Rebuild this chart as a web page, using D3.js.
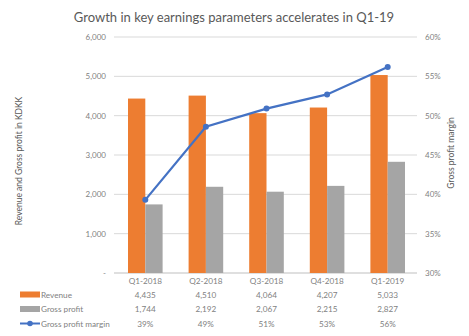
<!DOCTYPE html>
<html><head><meta charset="utf-8">
<script src="https://cdn.jsdelivr.net/npm/d3@7"></script>
<style>body{margin:0;background:#fff}svg{display:block}text{font-family:Lato,"Open Sans",sans-serif}</style>
</head><body>
<svg id="c" width="469" height="336"></svg>
<script>
const categories = ["Q1-2018","Q2-2018","Q3-2018","Q4-2018","Q1-2019"];
const revenue = [4435,4510,4064,4207,5033];
const grossProfit = [1744,2192,2067,2215,2827];
const margin = [39.3,48.6,50.9,52.7,56.2];
const marginLabels = ["39%","49%","51%","53%","56%"];
const leftTicks = [0,1000,2000,3000,4000,5000,6000];
const rightTicks = [30,35,40,45,50,55,60];

const svg = d3.select("#c");
const L = 114, R = 417, T = 37, B = 273;
const x = d3.scaleBand().domain(categories).range([L,R]);
const y = d3.scaleLinear().domain([0,6000]).range([B,T]);
const y2 = d3.scaleLinear().domain([30,60]).range([B,T]);
const txt = "#7f7f7f";

svg.append("text").attr("x",234).attr("y",22).attr("text-anchor","middle")
  .attr("font-size",13).attr("fill","#595959").text("Growth in key earnings parameters accelerates in Q1-19");

// gridlines
svg.append("g").selectAll("line").data(leftTicks).join("line")
  .attr("x1",L).attr("x2",R).attr("y1",d=>y(d)).attr("y2",d=>y(d))
  .attr("stroke",d=>d===0?"#bfbfbf":"#d9d9d9").attr("stroke-width",1);

// left axis labels
svg.append("g").selectAll("text").data(leftTicks).join("text")
  .attr("x",106).attr("y",d=>y(d)+3).attr("text-anchor","end")
  .attr("font-size",8).attr("fill",txt).text(d=>d===0?"-":d3.format(",")(d));
// right axis labels
svg.append("g").selectAll("text").data(rightTicks).join("text")
  .attr("x",425).attr("y",d=>y2(d)+3).attr("text-anchor","start")
  .attr("font-size",8).attr("fill",txt).text(d=>d+"%");

svg.append("text").attr("transform","translate(22,161) rotate(-90)").attr("text-anchor","middle")
  .attr("font-size",8.5).attr("fill","#595959").text("Revenue and Gross profit in KDKK");
svg.append("text").attr("transform","translate(454,153) rotate(-90)").attr("text-anchor","middle")
  .attr("font-size",8.5).attr("fill","#595959").text("Gross profit margin");

const bw = 17.3;
const cx = d=>x(d)+x.bandwidth()/2+1;
svg.append("g").selectAll("rect").data(categories).join("rect")
  .attr("x",(d)=>cx(d)-bw).attr("width",bw)
  .attr("y",(d,i)=>y(revenue[i])).attr("height",(d,i)=>B-y(revenue[i])).attr("fill","#ED7D31");
svg.append("g").selectAll("rect").data(categories).join("rect")
  .attr("x",(d)=>cx(d)).attr("width",bw)
  .attr("y",(d,i)=>y(grossProfit[i])).attr("height",(d,i)=>B-y(grossProfit[i])).attr("fill","#A5A5A5");

const line = d3.line().x((d,i)=>cx(categories[i])).y(d=>y2(d));
svg.append("path").datum(margin).attr("d",line).attr("fill","none").attr("stroke","#4472C4").attr("stroke-width",2.2);
svg.append("g").selectAll("circle").data(margin).join("circle")
  .attr("cx",(d,i)=>cx(categories[i])).attr("cy",d=>y2(d)).attr("r",3).attr("fill","#4472C4");

// table
const rowY = [294.5,309,323.5];
svg.append("g").selectAll("text").data(categories).join("text")
  .attr("x",d=>cx(d)).attr("y",283.5).attr("text-anchor","middle").attr("font-size",8.2).attr("fill",txt).text(d=>d);
const rows = [revenue.map(d3.format(",")), grossProfit.map(d3.format(",")), marginLabels];
rows.forEach((r,ri)=>{
  svg.append("g").selectAll("text").data(r).join("text")
    .attr("x",(d,i)=>cx(categories[i])).attr("y",rowY[ri]+3).attr("text-anchor","middle")
    .attr("font-size",8.2).attr("fill",txt).text(d=>d);
});
const names = ["Revenue","Gross profit","Gross profit margin"];
svg.append("rect").attr("x",20).attr("y",rowY[0]-3).attr("width",20).attr("height",6).attr("fill","#ED7D31");
svg.append("rect").attr("x",20).attr("y",rowY[1]-3).attr("width",20).attr("height",6).attr("fill","#A5A5A5");
svg.append("line").attr("x1",20).attr("x2",40).attr("y1",rowY[2]).attr("y2",rowY[2]).attr("stroke","#4472C4").attr("stroke-width",2);
svg.append("circle").attr("cx",30).attr("cy",rowY[2]).attr("r",2.8).attr("fill","#4472C4");
svg.append("g").selectAll("text").data(names).join("text")
  .attr("x",41).attr("y",(d,i)=>rowY[i]+3).attr("font-size",8.2).attr("fill",txt).text(d=>d);
</script>
</body></html>
